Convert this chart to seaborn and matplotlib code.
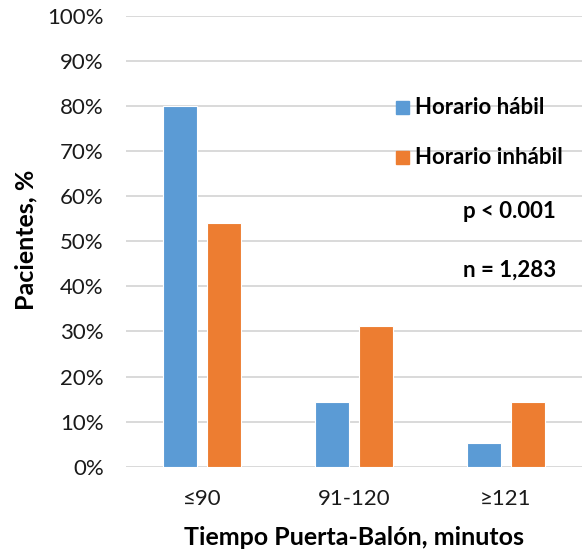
import matplotlib
matplotlib.use("Agg")
import matplotlib.pyplot as plt
import matplotlib.ticker as mticker
import pandas as pd
import seaborn as sns

# Door-to-balloon time categories and share of patients per shift
categories = ["≤90", "91-120", "≥121"]
horario_habil = [80.0, 14.3, 5.2]
horario_inhabil = [54.1, 31.2, 14.4]
series_names = ["Horario hábil", "Horario inhábil"]
colors = ["#5B9BD5", "#ED7D31"]
y_ticks = [0, 10, 20, 30, 40, 50, 60, 70, 80, 90, 100]

df = pd.DataFrame({
    "categoria": categories * 2,
    "valor": horario_habil + horario_inhabil,
    "serie": [series_names[0]] * 3 + [series_names[1]] * 3,
})

sns.set_theme(style="white")
plt.rcParams["font.family"] = ["Lato", "DejaVu Sans"]

fig = plt.figure(figsize=(5.82, 5.51), dpi=100)
ax = fig.add_axes([126 / 582, 1 - 466.7 / 551, 456 / 582, 450.7 / 551])

sns.barplot(data=df, x="categoria", y="valor", hue="serie",
            order=categories, hue_order=series_names,
            palette=colors, width=0.57, gap=0.22,
            ax=ax, legend=False, errorbar=None, saturation=1)
for patch in ax.patches:
    patch.set_edgecolor("white")
    patch.set_linewidth(0.8)

ax.set_ylim(0, 100)
ax.set_xlim(-0.5, 2.5)
ax.set_yticks(y_ticks)
ax.yaxis.set_major_formatter(mticker.FuncFormatter(lambda v, p: f"{int(v)}%"))
ax.yaxis.grid(True, color="#d9d9d9", linewidth=1.4)
ax.set_axisbelow(True)
for s in ax.spines.values():
    s.set_visible(False)
ax.tick_params(axis="both", length=0, labelsize=16, colors="#1a1a1a")
ax.tick_params(axis="y", pad=16)
ax.tick_params(axis="x", pad=16)

ax.set_ylabel("Pacientes, %", fontsize=18, fontweight="bold", color="black")
ax.set_xlabel("Tiempo Puerta-Balón, minutos", fontsize=18, fontweight="bold",
              color="black")
ax.xaxis.set_label_coords(0.5, -0.132)
ax.yaxis.set_label_coords(-0.195, 0.503)

# Legend drawn as square markers with bold labels
for i, (name, col) in enumerate(zip(series_names, colors)):
    yy = 108 + i * 50
    fig.patches.append(plt.Rectangle((396 / 582, 1 - (yy + 6) / 551), 13 / 582, 13 / 551,
                                     transform=fig.transFigure, color=col, figure=fig))
    fig.text(415 / 582, 1 - yy / 551, name, fontsize=16, fontweight="bold",
             va="center", ha="left", color="black")

fig.text(556 / 582, 1 - 212 / 551, "p < 0.001", fontsize=16, fontweight="bold",
         va="center", ha="right", color="black")
fig.text(556 / 582, 1 - 270 / 551, "n = 1,283", fontsize=16, fontweight="bold",
         va="center", ha="right", color="black")

fig.savefig("out.png", dpi=100, facecolor="white")
